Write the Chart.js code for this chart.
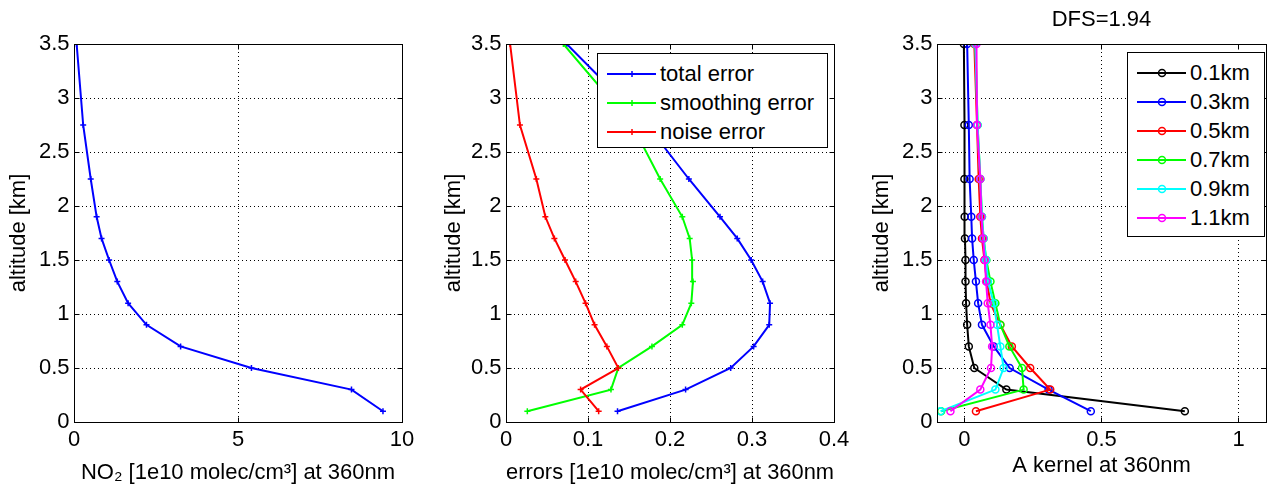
<!DOCTYPE html>
<html>
<head>
<meta charset="utf-8">
<script src="https://cdn.jsdelivr.net/npm/chart.js@4.4.0/dist/chart.umd.min.js"></script>
<style>
  body {
    margin: 0;
    background: #fff;
    width: 1268px;
    height: 497px;
    position: relative;
    overflow: hidden;
    font-family: "Liberation Sans", Arial, sans-serif;
  }
  canvas { position: absolute; top: 0; }
  .legenda {
    position: absolute;
    background: #fff;
    border: 1px solid #000;
    box-sizing: border-box;
    font-size: 22px;
    color: #000;
  }
  .legenda .linha { display: flex; align-items: center; height: 29px; white-space: nowrap; }
  .legenda svg { margin-left: 9px; margin-right: 4px; flex: none; }
</style>
</head>
<body>
<canvas id="graficoNO2" width="430" height="497" style="left:0"></canvas>
<canvas id="graficoErros" width="450" height="497" style="left:410px"></canvas>
<canvas id="graficoKernel" width="428" height="497" style="left:840px"></canvas>
<div id="legendaErros" class="legenda" style="left:597px;top:53px;width:231px;height:95px;padding-top:5px"></div>
<div id="legendaKernel" class="legenda" style="left:1127px;top:52px;width:138px;height:185px;padding-top:5px"></div>
<script>
// altitudes [km] dos niveis do perfil
const altitudes = [0.1, 0.3, 0.5, 0.7, 0.9, 1.1, 1.3, 1.5, 1.7, 1.9, 2.25, 2.75, 3.5];

// perfil NO2 [1e10 molec/cm3]
const no2 = [9.42, 8.46, 5.41, 3.25, 2.21, 1.65, 1.32, 1.07, 0.84, 0.69, 0.51, 0.28, 0.08];

// erros [1e10 molec/cm3]
const erroTotal = [0.136, 0.219, 0.274, 0.302, 0.321, 0.322, 0.313, 0.299, 0.282, 0.261, 0.223, 0.172, 0.074];
const erroSuavizacao = [0.026, 0.128, 0.137, 0.178, 0.215, 0.226, 0.228, 0.227, 0.224, 0.215, 0.188, 0.154, 0.070];
const erroRuido = [0.113, 0.091, 0.137, 0.123, 0.108, 0.097, 0.085, 0.072, 0.059, 0.048, 0.037, 0.017, 0.005];

// averaging kernels
const kernel01 = [0.804, 0.153, 0.036, 0.016, 0.010, 0.006, 0.004, 0.004, 0.002, 0.001, 0.000, 0.000, -0.002];
const kernel03 = [0.461, 0.307, 0.165, 0.107, 0.064, 0.050, 0.042, 0.034, 0.028, 0.025, 0.019, 0.016, 0.010];
const kernel05 = [0.042, 0.313, 0.240, 0.173, 0.131, 0.095, 0.082, 0.073, 0.064, 0.058, 0.052, 0.046, 0.036];
const kernel07 = [-0.085, 0.216, 0.210, 0.164, 0.131, 0.113, 0.095, 0.080, 0.070, 0.064, 0.058, 0.048, 0.040];
const kernel09 = [-0.087, 0.113, 0.143, 0.131, 0.119, 0.107, 0.086, 0.079, 0.070, 0.064, 0.058, 0.048, 0.040];
const kernel11 = [-0.051, 0.058, 0.097, 0.101, 0.095, 0.085, 0.079, 0.074, 0.068, 0.062, 0.058, 0.046, 0.044];

// ticks
const ticksAltitude = [0, 0.5, 1, 1.5, 2, 2.5, 3, 3.5];
const ticksNO2 = [0, 5, 10];
const ticksErros = [0, 0.1, 0.2, 0.3, 0.4];
const ticksKernel = [0, 0.5, 1];

const errosLabels = ["total error", "smoothing error", "noise error"];
const errosCores = ["#0000ff", "#00ff00", "#ff0000"];
const kernelLabels = ["0.1km", "0.3km", "0.5km", "0.7km", "0.9km", "1.1km"];
const kernelCores = ["#000000", "#0000ff", "#ff0000", "#00ff00", "#00ffff", "#ff00ff"];

const tituloDFS = "DFS=1.94";

Chart.defaults.font.family = '"Liberation Sans", Arial, sans-serif';
Chart.defaults.font.size = 22;
Chart.defaults.color = "#000";

function pontos(valores) {
  return valores.map((v, i) => ({ x: v, y: altitudes[i] }));
}

function alinhar(p) {
  return Math.round(p - 0.5) + 0.5;
}

// caixa do eixo + ticks para dentro (estilo matlab)
const caixaPlugin = {
  id: "caixa",
  afterDraw(chart) {
    const { ctx, chartArea: a, scales } = chart;
    const esq = alinhar(a.left), dir = alinhar(a.right);
    const topo = alinhar(a.top), base = alinhar(a.bottom);
    ctx.save();
    ctx.strokeStyle = "#000";
    ctx.lineWidth = 1;
    ctx.setLineDash([]);
    ctx.strokeRect(esq, topo, dir - esq, base - topo);
    ctx.beginPath();
    scales.x.ticks.forEach((t) => {
      const px = alinhar(scales.x.getPixelForValue(t.value));
      ctx.moveTo(px, base); ctx.lineTo(px, base - 5);
      ctx.moveTo(px, topo); ctx.lineTo(px, topo + 5);
    });
    scales.y.ticks.forEach((t) => {
      const py = alinhar(scales.y.getPixelForValue(t.value));
      ctx.moveTo(esq, py); ctx.lineTo(esq + 5, py);
      ctx.moveTo(dir, py); ctx.lineTo(dir - 5, py);
    });
    ctx.stroke();
    ctx.restore();
  },
};

function eixos(cfg) {
  return {
    x: {
      type: "linear",
      min: cfg.xMin,
      max: cfg.xMax,
      afterBuildTicks: (s) => { s.ticks = cfg.xTicks.map((v) => ({ value: v })); },
      afterFit: (s) => { s.height = 75; s.paddingLeft = 0; s.paddingRight = 0; },
      grid: { color: "#000", lineWidth: 1, drawTicks: false },
      border: { display: false, dash: [1, 3] },
      ticks: { padding: 4.5, maxRotation: 0, autoSkip: false, callback: (v) => String(v) },
      title: {
        display: true,
        text: cfg.xTitulo,
        padding: { top: 0, bottom: cfg.xTitPad },
      },
    },
    y: {
      type: "linear",
      min: 0,
      max: 3.5,
      afterBuildTicks: (s) => { s.ticks = ticksAltitude.map((v) => ({ value: v })); },
      afterFit: (s) => { s.width = cfg.yLargura; s.paddingTop = 0; s.paddingBottom = 0; },
      grid: { color: "#000", lineWidth: 1, drawTicks: false },
      border: { display: false, dash: [1, 3] },
      ticks: { padding: 4.5, autoSkip: false, callback: (v) => String(v) },
      title: {
        display: true,
        text: "altitude [km]",
        padding: { top: cfg.yTitPad, bottom: 0 },
      },
    },
  };
}

function serie(label, valores, cor, estilo, i, total) {
  return {
    label,
    data: pontos(valores),
    showLine: true,
    borderColor: cor,
    backgroundColor: cor,
    borderWidth: 2,
    pointStyle: estilo,
    pointRadius: estilo === "circle" ? 3.5 : 3,
    pointBorderWidth: 1.5,
    pointBorderColor: cor,
    pointBackgroundColor: estilo === "circle" ? "rgba(0,0,0,0)" : cor,
    order: total - i,
  };
}

const opcoesBase = {
  responsive: false,
  animation: false,
  plugins: { legend: { display: false }, tooltip: { enabled: false } },
};

// ===== NO2 =====
new Chart(document.getElementById("graficoNO2"), {
  type: "scatter",
  data: { datasets: [serie("NO\u2082", no2, "#0000ff", "cross", 0, 1)] },
  options: {
    ...opcoesBase,
    layout: { autoPadding: false, padding: { top: 44, right: 28, left: 0, bottom: 0 } },
    scales: eixos({
      xMin: 0, xMax: 10, xTicks: ticksNO2,
      xTitulo: "NO\u2082 [1e10 molec/cm\u00b3] at 360nm", xTitPad: 10.4,
      yLargura: 74, yTitPad: 6,
    }),
  },
  plugins: [caixaPlugin],
});

// ===== erros =====
const errosValores = [erroTotal, erroSuavizacao, erroRuido];
new Chart(document.getElementById("graficoErros"), {
  type: "scatter",
  data: {
    datasets: errosValores.map((v, i) => serie(errosLabels[i], v, errosCores[i], "cross", i, errosValores.length)),
  },
  options: {
    ...opcoesBase,
    layout: { autoPadding: false, padding: { top: 44, right: 26, left: 0, bottom: 0 } },
    scales: eixos({
      xMin: 0, xMax: 0.4, xTicks: ticksErros,
      xTitulo: "errors [1e10 molec/cm\u00b3] at 360nm", xTitPad: 10.4,
      yLargura: 96, yTitPad: 30.4,
    }),
  },
  plugins: [caixaPlugin],
});

// ===== kernels =====
const kernelValores = [kernel01, kernel03, kernel05, kernel07, kernel09, kernel11];
new Chart(document.getElementById("graficoKernel"), {
  type: "scatter",
  data: {
    datasets: kernelValores.map((v, i) => serie(kernelLabels[i], v, kernelCores[i], "circle", i, kernelValores.length)),
  },
  options: {
    ...opcoesBase,
    layout: { autoPadding: false, padding: { top: 0, right: 2, left: 0, bottom: 0 } },
    plugins: {
      ...opcoesBase.plugins,
      title: {
        display: true,
        text: tituloDFS,
        fullSize: false,
        font: { size: 22, weight: "normal" },
        padding: { top: 6.4, bottom: 11.2 },
      },
    },
    scales: eixos({
      xMin: -0.1, xMax: 1.1, xTicks: ticksKernel,
      xTitulo: "A kernel at 360nm", xTitPad: 17.9,
      yLargura: 97, yTitPad: 28.4,
    }),
  },
  plugins: [caixaPlugin],
});

// ===== legendas em html =====
function amostra(cor, estilo) {
  const marca = estilo === "circle"
    ? `<circle cx="25" cy="7" r="3.5" fill="none" stroke="${cor}" stroke-width="1.5"/>`
    : `<path d="M22 7h6M25 4v6" stroke="${cor}" stroke-width="1.5"/>`;
  return `<svg width="49" height="14"><line x1="0" y1="7" x2="49" y2="7" stroke="${cor}" stroke-width="2"/>${marca}</svg>`;
}

function montarLegenda(id, labels, cores, estilo) {
  const el = document.getElementById(id);
  el.innerHTML = "";
  labels.forEach((txt, i) => {
    el.innerHTML += `<div class="linha">${amostra(cores[i], estilo)}<span>${txt}</span></div>`;
  });
}

montarLegenda("legendaErros", errosLabels, errosCores, "cross");
montarLegenda("legendaKernel", kernelLabels, kernelCores, "circle");
</script>
</body>
</html>
